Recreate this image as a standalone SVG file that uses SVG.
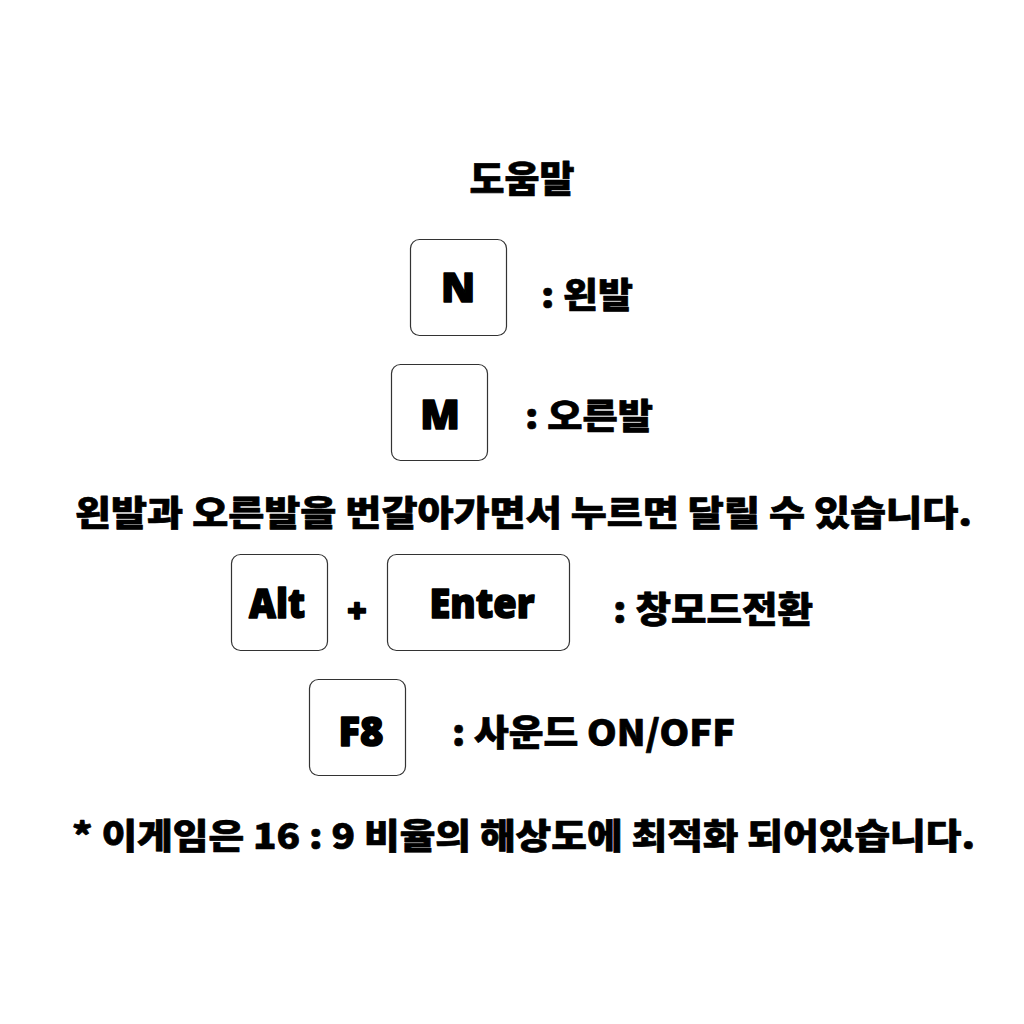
<svg xmlns="http://www.w3.org/2000/svg" width="1024" height="1024" viewBox="0 0 1024 1024">
<style>
.t{font-family:"Noto Sans CJK KR","Noto Sans",sans-serif;font-weight:900;fill:#000;stroke:#000;stroke-width:0.7;stroke-linejoin:round}
.k{fill:#fff;stroke:#333;stroke-width:1.2}
.key{font-family:"Noto Sans","Noto Sans CJK KR",sans-serif;font-weight:900;fill:#000;text-anchor:middle;stroke:#000;stroke-width:1.5;stroke-linejoin:round}
</style>
<rect width="1024" height="1024" fill="#fff"/>
<g id="title"><text class="t" x="522" y="193" font-size="37" text-anchor="middle" textLength="105" lengthAdjust="spacingAndGlyphs">도움말</text></g>
<g id="key-n"><rect class="k" x="410.5" y="239.5" width="96" height="96" rx="9"/><text class="key" x="458" y="302" font-size="41">N</text></g>
<g id="label-n"><text class="t" x="541" y="308" font-size="35" textLength="92" lengthAdjust="spacingAndGlyphs">: 왼발</text></g>
<g id="key-m"><rect class="k" x="391.5" y="364.5" width="96" height="96" rx="9"/><text class="key" x="440" y="429" font-size="41">M</text></g>
<g id="label-m"><text class="t" x="525" y="429" font-size="35" textLength="128" lengthAdjust="spacingAndGlyphs">: 오른발</text></g>
<g id="instruction"><text class="t" x="75" y="526" font-size="35" textLength="897" lengthAdjust="spacingAndGlyphs">왼발과 오른발을 번갈아가면서 누르면 달릴 수 있습니다.</text></g>
<g id="key-alt"><rect class="k" x="231.5" y="554.5" width="96" height="96" rx="9"/><text class="key" x="277" y="618" font-size="40" textLength="56" lengthAdjust="spacingAndGlyphs">Alt</text></g>
<g id="plus"><text class="key" x="357" y="623" font-size="34">+</text></g>
<g id="key-enter"><rect class="k" x="387.5" y="554.5" width="182" height="96" rx="9"/><text class="key" x="482" y="618" font-size="40" textLength="105" lengthAdjust="spacingAndGlyphs">Enter</text></g>
<g id="label-altenter"><text class="t" x="613" y="623" font-size="36" textLength="200" lengthAdjust="spacingAndGlyphs">: 창모드전환</text></g>
<g id="key-f8"><rect class="k" x="309.5" y="679.5" width="96" height="96" rx="9"/><text class="key" x="361" y="746" font-size="40" textLength="45" lengthAdjust="spacingAndGlyphs">F8</text></g>
<g id="label-f8"><text class="t" x="452" y="746" font-size="36" textLength="283" lengthAdjust="spacingAndGlyphs">: 사운드 ON/OFF</text></g>
<g id="note"><text class="t" x="72" y="849" font-size="35" textLength="903" lengthAdjust="spacingAndGlyphs">* 이게임은 16 : 9 비율의 해상도에 최적화 되어있습니다.</text></g>
</svg>
